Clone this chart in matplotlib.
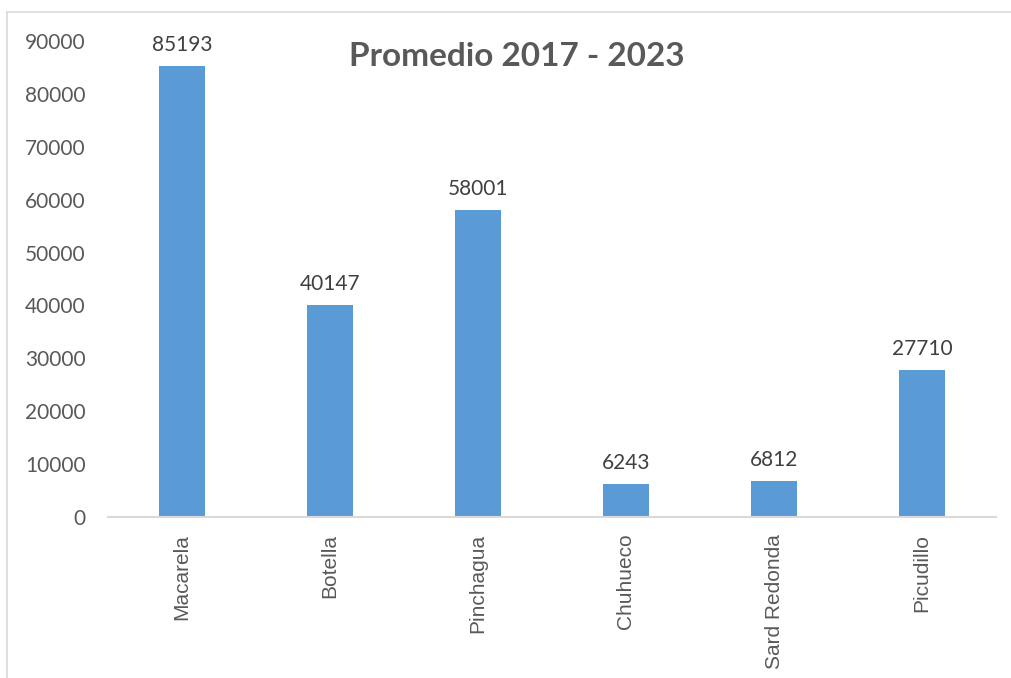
import numpy as np
import matplotlib.pyplot as plt
from matplotlib.lines import Line2D

# promedio de capturas por especie
especies = ["Macarela", "Botella", "Pinchagua", "Chuhueco", "Sard Redonda", "Picudillo"]
promedio = [85193, 40147, 58001, 6243, 6812, 27710]
yticks = [0, 10000, 20000, 30000, 40000, 50000, 60000, 70000, 80000, 90000]

TXT = "#595959"
BAR = "#5B9BD5"
plt.rcParams['font.family'] = ['Lato', 'DejaVu Sans']

W, H = 1011, 678
fig = plt.figure(figsize=(W / 100, H / 100), dpi=100)
ax = fig.add_axes([108 / W, 1 - 517 / H, (996 - 108) / W, (517 - 41) / H])

x = np.arange(len(especies))
bars = ax.bar(x, promedio, width=0.31, color=BAR)
for b, v in zip(bars, promedio):
    ax.annotate(str(v), (b.get_x() + b.get_width() / 2, v), xytext=(0, 8),
                textcoords="offset points", ha="center", va="bottom",
                fontsize=15, color="#404040")

ax.set_xlim(-0.5, len(especies) - 0.5)
ax.set_ylim(0, 90000)
ax.set_yticks(yticks)
ax.set_yticklabels([str(t) for t in yticks], fontsize=15, color=TXT)
ax.set_xticks(x)
ax.set_xticklabels(especies, rotation=90, fontsize=15, color=TXT,
                   family=['Liberation Sans', 'DejaVu Sans'])
ax.tick_params(axis="both", length=0)
ax.tick_params(axis="y", pad=16)
ax.tick_params(axis="x", pad=12)
for s in ["top", "right", "left"]:
    ax.spines[s].set_visible(False)
ax.spines["bottom"].set_color("#d9d9d9")
ax.spines["bottom"].set_linewidth(1.5)

fig.text(517 / W, 1 - 57 / H, "Promedio 2017 - 2023", ha="center", va="center",
         fontsize=24, fontweight="bold", color=TXT)

# marco del gráfico
fig.add_artist(Line2D([7 / W, 1], [1 - 12 / H, 1 - 12 / H], color="#d9d9d9", lw=1.2))
fig.add_artist(Line2D([7 / W, 7 / W], [0, 1 - 12 / H], color="#d9d9d9", lw=1.2))

fig.savefig("out.png", dpi=100, facecolor="white")
